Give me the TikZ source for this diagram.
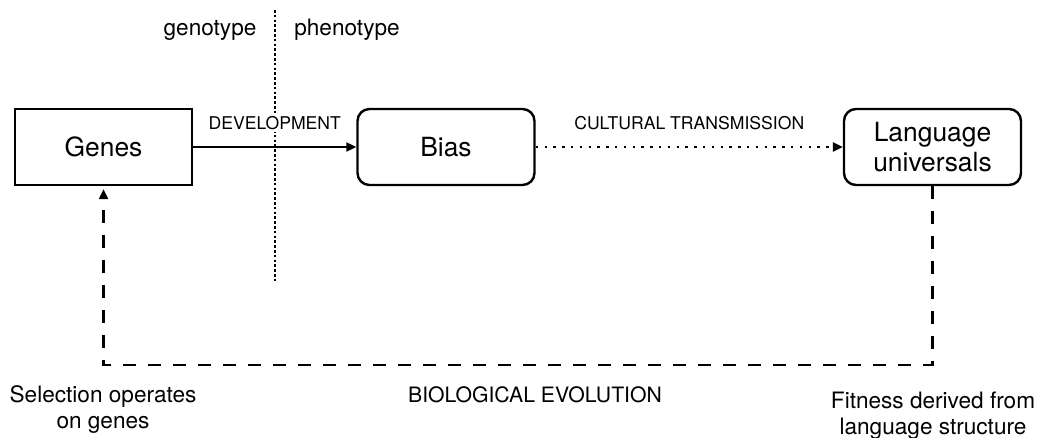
\documentclass[tikz,border=0pt]{standalone}
\usepackage{fontspec}
\setmainfont{TeX Gyre Heros}
\usetikzlibrary{arrows.meta,positioning,calc}

\tikzset{
  genebox/.style={draw,line width=1.2pt,minimum width=88.5pt,minimum height=38pt,
    font=\fontsize{13.2}{15}\selectfont,align=center},
  roundbox/.style={genebox,rounded corners=6pt},
  steplabel/.style={font=\fontsize{8.8}{10}\selectfont,inner sep=1pt},
  sidelabel/.style={font=\fontsize{11.3}{13}\selectfont,align=center},
  tip/.style={-{Triangle[length=5pt,width=4.5pt]}},
}

\begin{document}
\begin{tikzpicture}[x=0.5pt,y=-0.5pt,line width=1pt]
  \useasboundingbox (0,0) rectangle (1037,438);
  % Boxes
  \node[genebox] (genes) at (103.5,147) {Genes};
  \node[roundbox] (bias) at (446,147) {Bias};
  \node[roundbox] (lang) at (932.5,147) {Language\\universals};
  % Genotype / phenotype divider
  \coordinate (divtop) at (275,10);
  \coordinate (divbot) at (275,283);
  \draw[line width=1.3pt,dash pattern=on 1.3pt off 1.1pt] (divtop) -- (divbot);
  \node[sidelabel] (geno) at (210,30) {genotype};
  \node[sidelabel] (pheno) at (347,30) {phenotype};
  % Development
  \draw[tip] (genes) -- (bias)
    node[midway,above=7pt,steplabel,fill=white] (dev) {DEVELOPMENT};
  % Cultural transmission
  \draw[tip,line width=1.2pt,dash pattern=on 1.2pt off 3.2pt] (bias) -- (lang)
    node[midway,above=7pt,steplabel] (cult) {CULTURAL TRANSMISSION};
  % Biological evolution
  \coordinate (corner) at (932.5,365);
  \draw[tip,line width=1.1pt,dash pattern=on 6.5pt off 6pt,shorten >=1.5pt]
    (lang.south) -- (corner) -| (genes.south);
  \node[font=\fontsize{10.6}{12}\selectfont] (bio) at (535,395) {BIOLOGICAL EVOLUTION};
  \node[sidelabel] (sel) at (103,410) {Selection operates\\on genes};
  \node[sidelabel] (fit) at (933,416) {Fitness derived from\\language structure};
\end{tikzpicture}
\end{document}
